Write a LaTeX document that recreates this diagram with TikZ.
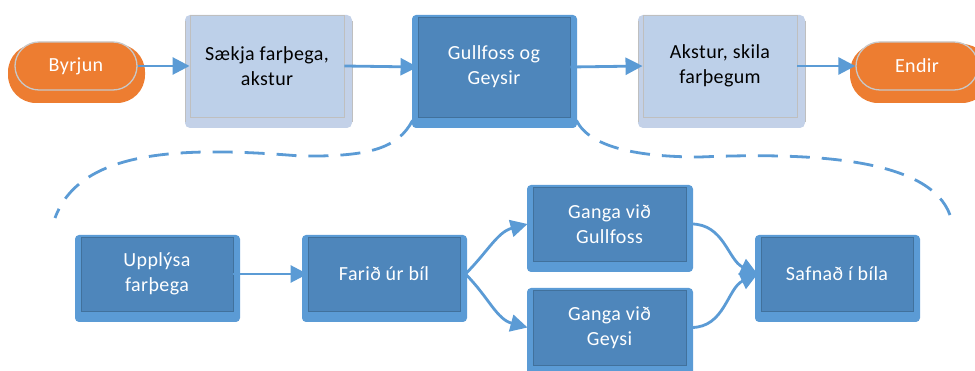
\documentclass[tikz,border=0pt]{standalone}
\usepackage{fontspec}
\setmainfont{Carlito}[LetterSpace=2]
\usetikzlibrary{arrows.meta}
\definecolor{orng}{HTML}{ED7D31}
\definecolor{pillgray}{HTML}{C8C8C8}
\definecolor{lightfill}{HTML}{BDD0E9}
\definecolor{lightout}{HTML}{C3D1E8}
\definecolor{lightedge}{HTML}{BFBFBF}
\definecolor{darkfill}{HTML}{4E86BB}
\definecolor{darkedge}{HTML}{41719C}
\definecolor{strip}{HTML}{5B9BD5}
\tikzset{
  txt/.style={font=\fontsize{20}{25}\selectfont, align=center, inner sep=0pt},
  darkbox/.style={txt, rectangle, fill=darkfill, draw=darkedge, line width=0.9pt, text=white},
  lightbox/.style={txt, rectangle, fill=lightfill, draw=lightedge, line width=0.9pt, text=black},
  pill/.style={txt, rectangle, rounded corners=24pt, fill=orng, draw=pillgray, line width=1.3pt, text=white},
  flow/.style={draw=strip, line width=2.8pt, -{Triangle[length=17pt,width=17pt]}},
  dashline/.style={draw=strip, line width=2.8pt, dash pattern=on 20pt off 12pt},
}
% name, x1, y1, x2, y2, text
\newcommand\dkbox[6]{%
  \fill[strip, rounded corners=4pt] (#2,#3) rectangle (#4,#5);
  \node[darkbox, minimum width={(#4-#2-13)*1pt}, minimum height={(#5-#3-13)*1pt}]
    (#1) at ({(#2+6+#4-7)/2},{(#3+2+#5-11)/2}) {#6};}
\newcommand\ltbox[6]{%
  \fill[lightout, rounded corners=5pt] (#2,#3) rectangle (#4,#5);
  \draw[lightedge, line width=0.8pt] (#2,#3+6) -- (#2,#5-6) (#4,#3+6) -- (#4,#5-6);
  \node[lightbox, minimum width={(#4-#2-13)*1pt}, minimum height={(#5-#3-11)*1pt}]
    (#1) at ({(#2+5+#4-8)/2},{(#3+#5-11)/2}) {#6};}
\begin{document}
\begin{tikzpicture}[x=1pt,y=-1pt]
\useasboundingbox (0,0) rectangle (975,371);
% start / end pills
\fill[orng, rounded corners=28pt] (8,44) rectangle (145,103);
\node[pill, minimum width=122pt, minimum height=48pt] (start) at (76,66) {Byrjun};
\fill[orng, rounded corners=28pt] (850,44) rectangle (990,103);
\node[pill, minimum width=122pt, minimum height=48pt] (end) at (917,66) {Endir};
% top boxes
\ltbox{fetch}{185}{15}{352}{128}{Sækja farþega,\\akstur}
\dkbox{gg}{412}{15}{577}{128}{Gullfoss og\\Geysir}
\ltbox{drive}{638}{15}{805}{128}{Akstur, skila\\farþegum}
% bottom boxes
\dkbox{inform}{75}{235}{240}{322}{Upplýsa\\farþega}
\dkbox{out}{302}{235}{467}{322}{Farið úr bíl}
\dkbox{walkg}{527}{185}{693}{272}{Ganga við\\Gullfoss}
\dkbox{walkh}{527}{288}{693}{376}{Ganga við\\Geysi}
\dkbox{gather}{755}{235}{920}{322}{Safnað í bíla}
% top flow
\draw[flow] (start.east) -- (fetch.west);
\draw[flow] (fetch.east) -- (gg.west);
\draw[flow] (gg.east) -- (drive.west);
\draw[flow] (drive.east) -- (end.west);
% bottom flow
\draw[flow] (inform.east) -- (out.west);
\draw[flow] ([xshift=5pt]out.east) to[out=45,in=195] ([xshift=-5pt]walkg.west);
\draw[flow] ([xshift=5pt]out.east) to[out=-45,in=165] ([xshift=-5pt]walkh.west);
\draw[flow] ([xshift=5pt]walkg.east) to[out=0,in=155] ([xshift=-3pt]gather.west);
\draw[flow] ([xshift=5pt]walkh.east) to[out=0,in=205] ([xshift=-3pt]gather.west);
% dashed expansion brace
\coordinate (lb) at (55,218);
\coordinate (rb) at (950,215);
\path (gg.south west) ++(-5,3) coordinate (ggl);
\path (gg.south east) ++(6,3) coordinate (ggr);
\draw[dashline] (ggl) .. controls (398,148) and (370,157) .. (300,156)
            .. controls (180,146) and (80,150) .. (lb);
\draw[dashline] (ggr) .. controls (590,148) and (640,157) .. (700,157)
            .. controls (820,152) and (930,160) .. (rb);
\end{tikzpicture}
\end{document}
